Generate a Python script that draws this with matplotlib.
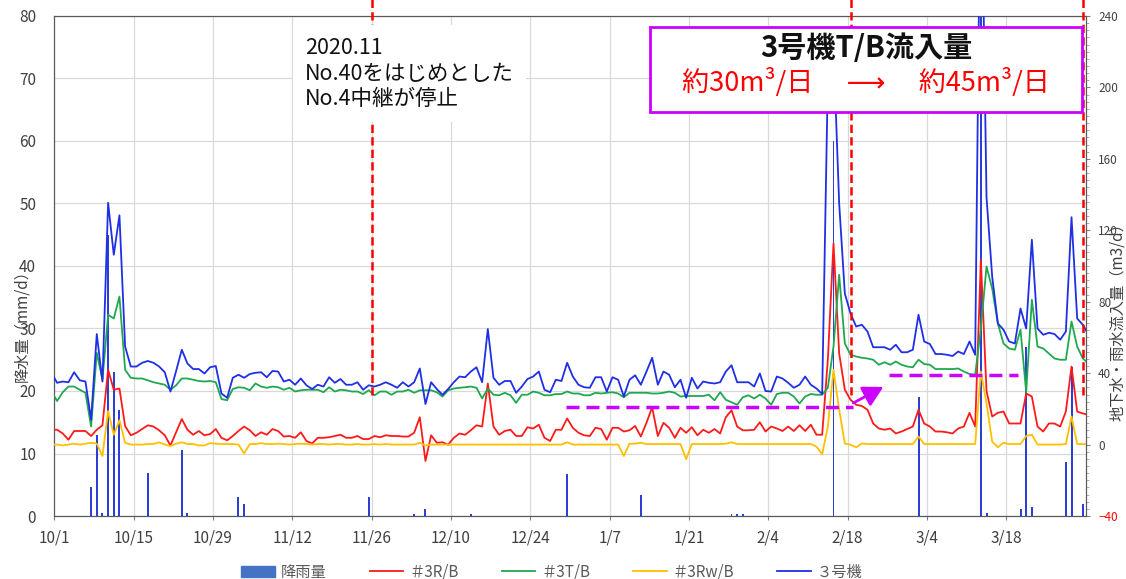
import numpy as np
import matplotlib
matplotlib.use("Agg")
import matplotlib.pyplot as plt
from matplotlib.patches import Patch, Rectangle, FancyArrowPatch
from matplotlib.lines import Line2D
from matplotlib.ticker import MultipleLocator

plt.rcParams['font.family'] = ['Noto Sans CJK JP', 'DejaVu Sans']

# ---- data -------------------------------------------------------------
tick_labels = ['10/1', '10/15', '10/29', '11/12', '11/26', '12/10', '12/24',
               '1/7', '1/21', '2/4', '2/18', '3/4', '3/18']

# rainfall mm/d, 10/1 .. 3/31
rain = [0, 0, 0, 0, 0, 0, 4.6, 13.0, 0.5, 45.0,
        23.0, 17.0, 0, 0, 0, 0, 6.9, 0, 0, 0,
        0, 0, 10.5, 0.5, 0, 0, 0, 0, 0, 0,
        0, 0, 3.0, 2.0, 0, 0, 0, 0, 0, 0,
        0, 0, 0, 0, 0, 0, 0, 0, 0, 0,
        0, 0, 0, 0, 0, 3.0, 0, 0, 0, 0,
        0, 0, 0, 0.4, 0, 1.1, 0, 0, 0, 0,
        0, 0, 0, 0.4, 0, 0, 0, 0, 0, 0,
        0, 0, 0, 0, 0, 0, 0, 0, 0, 0,
        6.8, 0, 0, 0, 0, 0, 0, 0, 0, 0,
        0, 0, 0, 3.4, 0, 0, 0, 0, 0, 0,
        0, 0, 0, 0, 0, 0, 0, 0, 0, 0.4,
        0.4, 0.4, 0, 0, 0, 0, 0, 0, 0, 0,
        0, 0, 0, 0, 0, 0, 0, 60.0, 0, 0,
        0, 0, 0, 0, 0, 0, 0, 0, 0, 0,
        0, 0, 19.0, 0, 0, 0, 0, 0, 0, 0,
        0, 0, 0, 88.0, 0.5, 0, 0, 0, 0, 0,
        1.1, 27.1, 1.4, 0, 0, 0, 0, 0, 8.6, 23.9,
        0, 1.9]

# inflow m3/d, 9/30 .. 4/1
unit3 = [40.2,
         34.6, 35.3, 34.9, 40.5, 36.0, 35.3, 13.9, 61.9, 35.3, 135.4,
         106.3, 128.4, 54.9, 43.7, 43.7, 45.8, 46.8, 45.8, 43.7, 40.5,
         29.7, 41.2, 53.1, 45.4, 42.3, 42.3, 39.8, 43.3, 44.0, 28.6,
         26.2, 37.4, 39.1, 37.4, 39.5, 40.2, 40.5, 37.7, 41.2, 40.9,
         35.3, 36.3, 33.5, 37.0, 33.2, 31.1, 33.5, 32.5, 37.7, 34.6,
         36.7, 33.5, 33.5, 34.9, 30.7, 33.2, 32.5, 33.5, 34.9, 33.5,
         31.8, 34.9, 32.5, 34.9, 42.6, 22.7, 34.9, 31.1, 27.9, 31.1,
         34.9, 38.1, 37.7, 40.9, 43.3, 34.9, 64.7, 37.4, 33.5, 35.6,
         35.6, 29.0, 32.5, 36.7, 38.1, 40.9, 30.7, 29.3, 36.3, 35.6,
         45.8, 38.1, 33.5, 32.1, 31.8, 37.7, 37.7, 29.7, 37.7, 36.3,
         26.9, 36.3, 38.8, 33.5, 40.9, 48.6, 33.5, 40.9, 39.1, 32.1,
         36.3, 26.2, 37.4, 31.4, 35.3, 34.6, 34.2, 34.9, 40.9, 44.4,
         34.9, 34.9, 34.9, 32.5, 39.8, 30.0, 29.7, 38.1, 37.0, 34.6,
         31.8, 33.5, 38.1, 33.5, 31.4, 28.3, 205.0, 222.5, 135.0, 84.6,
         73.4, 66.1, 67.1, 63.3, 54.5, 54.5, 54.5, 53.1, 55.9, 51.7,
         51.7, 53.1, 72.7, 57.7, 56.3, 50.7, 50.7, 50.3, 49.6, 52.1,
         50.7, 57.7, 50.3, 345.0, 138.5, 94.1, 67.8, 64.3, 57.7, 56.6,
         76.2, 65.0, 114.7, 65.0, 61.5, 62.6, 61.9, 58.7, 63.3, 127.3,
         70.6, 67.1, 61.5]

tb3 = [29.7,
       24.4, 29.3, 32.5, 32.5, 30.7, 29.0, 10.1, 51.4, 36.3, 72.7,
       70.6, 82.9, 41.9, 37.4, 37.0, 37.0, 36.0, 34.9, 34.2, 33.5,
       30.7, 33.2, 37.0, 37.0, 36.3, 35.6, 35.3, 35.6, 34.9, 25.5,
       24.8, 31.1, 32.1, 31.8, 30.4, 34.2, 32.5, 31.8, 32.5, 32.1,
       30.7, 31.8, 29.7, 30.4, 30.7, 30.7, 30.7, 29.3, 32.1, 29.7,
       30.7, 30.4, 29.7, 29.7, 28.3, 30.4, 27.6, 29.7, 29.7, 27.9,
       29.7, 29.7, 30.7, 29.0, 30.4, 30.4, 30.4, 29.3, 26.9, 30.4,
       31.4, 31.8, 32.1, 32.5, 31.8, 25.8, 31.4, 27.9, 27.6, 29.0,
       27.6, 23.4, 27.9, 27.9, 29.7, 29.0, 27.6, 27.6, 28.3, 28.3,
       29.7, 28.6, 28.6, 27.6, 27.6, 29.0, 28.6, 29.0, 29.3, 28.6,
       26.5, 29.0, 29.0, 29.0, 29.0, 28.6, 28.6, 29.0, 29.7, 29.0,
       26.9, 27.2, 27.2, 27.2, 27.2, 27.9, 24.8, 29.3, 25.1, 23.7,
       22.3, 26.5, 27.6, 25.8, 27.9, 25.8, 22.3, 28.3, 29.0, 29.0,
       26.9, 23.0, 26.9, 28.3, 27.9, 27.9, 31.8, 54.9, 95.1, 56.6,
       50.3, 49.3, 48.6, 48.2, 47.5, 44.7, 46.1, 44.7, 46.5, 44.7,
       43.7, 43.3, 47.5, 45.1, 44.7, 42.3, 42.3, 42.3, 42.3, 42.6,
       40.9, 39.5, 39.1, 65.0, 99.7, 87.4, 67.8, 56.6, 53.8, 53.1,
       64.3, 29.3, 81.1, 54.9, 53.8, 51.0, 48.2, 47.5, 47.5, 68.9,
       54.9, 48.2, 45.4]

rb3 = [8.3,
       8.3, 6.2, 2.7, 7.6, 7.6, 7.6, 4.8, 8.3, 10.8, 41.9,
       30.7, 31.4, 10.4, 5.2, 6.6, 8.7, 10.8, 10.1, 8.0, 5.2,
       -0.5, 6.9, 14.3, 8.3, 5.5, 7.6, 5.2, 5.9, 8.7, 3.8,
       2.4, 4.8, 7.6, 10.1, 8.0, 4.8, 6.9, 5.5, 8.7, 7.6,
       4.5, 4.8, 3.8, 6.9, 2.0, 0.6, 3.8, 3.8, 4.1, 4.8,
       5.5, 3.8, 3.8, 4.8, 3.1, 3.1, 4.8, 4.1, 5.2, 4.8,
       4.8, 4.5, 4.5, 6.6, 15.3, -9.2, 5.2, 1.0, 1.3, -0.1,
       3.8, 6.2, 5.5, 8.0, 10.8, 10.1, 34.2, 10.1, 5.5, 7.6,
       8.3, 4.8, 4.8, 9.7, 9.0, 11.1, 3.8, 2.0, 8.3, 8.3,
       14.6, 9.4, 6.6, 5.2, 4.8, 9.4, 8.7, 2.7, 9.4, 9.4,
       7.3, 8.0, 10.4, 4.5, 12.2, 20.9, 4.8, 12.2, 9.4, 3.8,
       9.4, 6.6, 9.7, 5.2, 8.3, 6.6, 8.7, 6.2, 15.3, 19.2,
       10.1, 8.0, 8.0, 8.3, 12.5, 7.3, 10.1, 9.0, 7.6, 10.1,
       7.6, 10.8, 7.6, 11.1, 5.5, 5.5, 47.5, 112.6, 51.0, 30.7,
       25.1, 22.3, 21.6, 19.5, 11.8, 9.0, 8.3, 9.0, 6.2, 7.3,
       8.7, 10.1, 19.5, 11.8, 10.1, 7.3, 7.3, 6.9, 6.2, 9.0,
       10.1, 17.8, 10.1, 103.5, 30.0, 15.7, 17.8, 18.5, 11.8, 11.8,
       11.8, 28.6, 26.9, 10.1, 7.3, 11.8, 11.8, 10.1, 18.5, 43.7,
       18.5, 17.4, 16.7]

rwb3 = [0.0,
        0.0, -0.5, 0.0, 0.5, 0.0, 0.5, 1.0, 0.5, -6.4, 18.8,
        5.5, 13.6, 1.0, 0.0, 0.0, 0.0, 0.3, 0.3, 1.3, 0.0,
        -0.8, 0.5, 1.3, 0.3, 0.3, -0.5, -0.5, 0.8, 0.5, 0.3,
        0.3, 0.3, 0.0, -5.0, 0.3, 0.3, 0.8, 0.3, 0.3, 0.5,
        0.3, 0.0, 0.3, 0.5, 0.3, 0.0, 0.3, 0.3, 0.0, 0.3,
        0.3, 0.0, 0.0, 0.3, 0.0, 0.0, 0.3, 0.0, 0.3, 0.0,
        0.0, 0.0, 0.0, 0.0, 1.0, -0.5, 0.0, 0.0, 0.0, 0.0,
        0.0, 0.0, 0.0, 0.0, 0.0, 0.0, 0.0, 0.0, 0.0, 0.0,
        0.0, 0.0, 0.0, 0.0, 0.0, 0.0, 0.0, 0.0, 0.0, 0.0,
        1.3, 0.0, 0.0, 0.0, 0.0, 0.0, 0.0, 0.0, 0.0, 0.0,
        -6.4, 0.5, 0.5, 1.0, 0.3, 0.3, 0.3, 0.3, 0.3, 0.3,
        0.3, -8.2, 0.3, 0.3, 0.3, 0.3, 0.3, 0.3, 0.5, 1.3,
        0.3, 0.3, 0.3, 0.3, 0.3, 0.3, 0.3, 0.3, 0.3, 0.3,
        0.3, 0.3, 0.3, 0.3, -1.2, -5.4, 10.0, 41.9, 19.5, 0.6,
        -0.1, -1.5, 0.6, 0.3, 0.3, 0.3, 0.3, 0.3, 0.3, 0.3,
        0.3, 0.3, 4.5, 0.3, 0.3, 0.3, 0.3, 0.3, 0.3, 0.3,
        0.3, 0.3, 0.3, 40.9, 23.0, 1.7, -1.5, 1.0, 0.3, 0.3,
        0.3, 4.8, 5.5, 0.0, 0.0, 0.0, 0.0, 0.0, 0.3, 15.7,
        0.3, 0.3, 0.3]

# ---- styles -----------------------------------------------------------
C_RAIN = '#2b3fd6'
C_RAIN_LEG = '#4472c4'
C_BLUE = '#1f2fe5'
C_RED = '#ff1a1a'
C_GREEN = '#1fa84f'
C_YELLOW = '#ffc000'
C_MAG = '#cc00ff'
TXT = '#404040'

day_bar = np.arange(len(rain)) + 0.5
day_line = np.arange(-1, len(unit3) - 1) + 0.5

fig = plt.figure(figsize=(11.26, 5.79), dpi=100)
ax = fig.add_axes([0.0482, 0.1088, 0.9160, 0.8636])
ax2 = ax.twinx()

ax.bar(day_bar, rain, width=0.35, color=C_RAIN, zorder=2)
ax.set_xlim(0, 182)
ax.set_ylim(0, 80)
ax.set_yticks(range(0, 81, 10))
ax.set_xticks(range(0, 169, 14))
ax.set_xticklabels(tick_labels)
ax.grid(True, color='#d9d9d9', lw=0.9)
ax.set_axisbelow(True)
ax.tick_params(axis='y', length=0, pad=13, labelsize=11, labelcolor=TXT)
ax.tick_params(axis='x', length=3, pad=7, labelsize=11, labelcolor=TXT, color='#808080')
for s in ax.spines.values():
    s.set_color('#595959')
    s.set_linewidth(0.8)

lw = 1.3
ax2.plot(day_line, rb3, color=C_RED, lw=lw, zorder=3)
ax2.plot(day_line, tb3, color=C_GREEN, lw=lw, zorder=3)
ax2.plot(day_line, rwb3, color=C_YELLOW, lw=lw, zorder=3)
ax2.plot(day_line, unit3, color=C_BLUE, lw=lw, zorder=4)
ax2.set_ylim(-40, 240)
ax2.set_yticks(range(-40, 241, 40))
ax2.yaxis.set_minor_locator(MultipleLocator(4))
ax2.tick_params(axis='y', which='major', length=3, pad=6, labelsize=8.5, labelcolor=TXT, color='#808080')
ax2.tick_params(axis='y', which='minor', length=2, color='#a0a0a0')
ax2.get_yticklabels()[0].set_color('red')
for s in ax2.spines.values():
    s.set_color('#595959')
    s.set_linewidth(0.8)

# red dashed markers
for xv in [56.0, 140.5, 181.5]:
    ax2.plot([xv, xv], [28, 252], color='#ff0000', lw=1.8,
             linestyle=(0, (3.3, 1.7)), clip_on=False, zorder=5)

# magenta levels and arrow
ax2.plot([90.3, 140.9], [21, 21], color=C_MAG, lw=2.5, linestyle=(0, (3.75, 2)), zorder=6)
ax2.plot([147.3, 170.0], [39, 39], color=C_MAG, lw=2.5, linestyle=(0, (3.75, 2)), zorder=6)
arrow = FancyArrowPatch((141.0, 23.3), (146.3, 32.3),
                        arrowstyle='-|>,head_length=0.55,head_width=0.3',
                        mutation_scale=22, color=C_MAG, lw=2,
                        shrinkA=0, shrinkB=0, zorder=6)
ax2.add_patch(arrow)

# note box
ax2.text(305 / 1126, 1 - 37 / 579, '2020.11\nNo.40をはじめとした\nNo.4中継が停止',
         transform=fig.transFigure, ha='left', va='top', fontsize=15.5,
         linespacing=1.22, color='#111111', zorder=9,
         bbox=dict(boxstyle='square,pad=0.55', fc='white', ec='none'))

box = Rectangle((650 / 1126, 1 - 112 / 579), (1082 - 650) / 1126, (112 - 27) / 579,
                transform=fig.transFigure, facecolor='white', edgecolor=C_MAG,
                lw=2, zorder=10)
ax2.add_patch(box)
box.set_clip_on(False)
ax2.text(866 / 1126, 1 - 48 / 579, '3号機T/B流入量', transform=fig.transFigure,
         ha='center', va='center', fontsize=21, fontweight='bold', color='#111111', zorder=11)
ax2.text(866 / 1126, 1 - 82 / 579, '約30m³/日　 ⟶　 約45m³/日', transform=fig.transFigure,
         ha='center', va='center', fontsize=19.5, color='#ff0000', zorder=11)

# axis titles
fig.text(22 / 1126, 1 - 322 / 579, '降水量（mm/d）', rotation=90,
         ha='center', va='center', fontsize=11, color=TXT)
fig.text(1117 / 1126, 1 - 318 / 579, '地下水・雨水流入量（m3/d）', rotation=90,
         ha='center', va='center', fontsize=11, color=TXT)

# legend
handles = [Patch(facecolor=C_RAIN_LEG, edgecolor=C_RAIN_LEG),
           Line2D([], [], color=C_RED, lw=lw),
           Line2D([], [], color=C_GREEN, lw=lw),
           Line2D([], [], color=C_YELLOW, lw=lw),
           Line2D([], [], color=C_BLUE, lw=lw)]
labels = ['降雨量', '＃3R/B', '＃3T/B', '＃3Rw/B', '３号機']
fig.legend(handles, labels, loc='center', bbox_to_anchor=(552 / 1126, 1 - 572 / 579),
           ncol=5, frameon=False, fontsize=11, labelcolor='#595959',
           handlelength=2.2, handleheight=0.7, handletextpad=0.4, columnspacing=2.8)

fig.savefig('out.png', dpi=100)
